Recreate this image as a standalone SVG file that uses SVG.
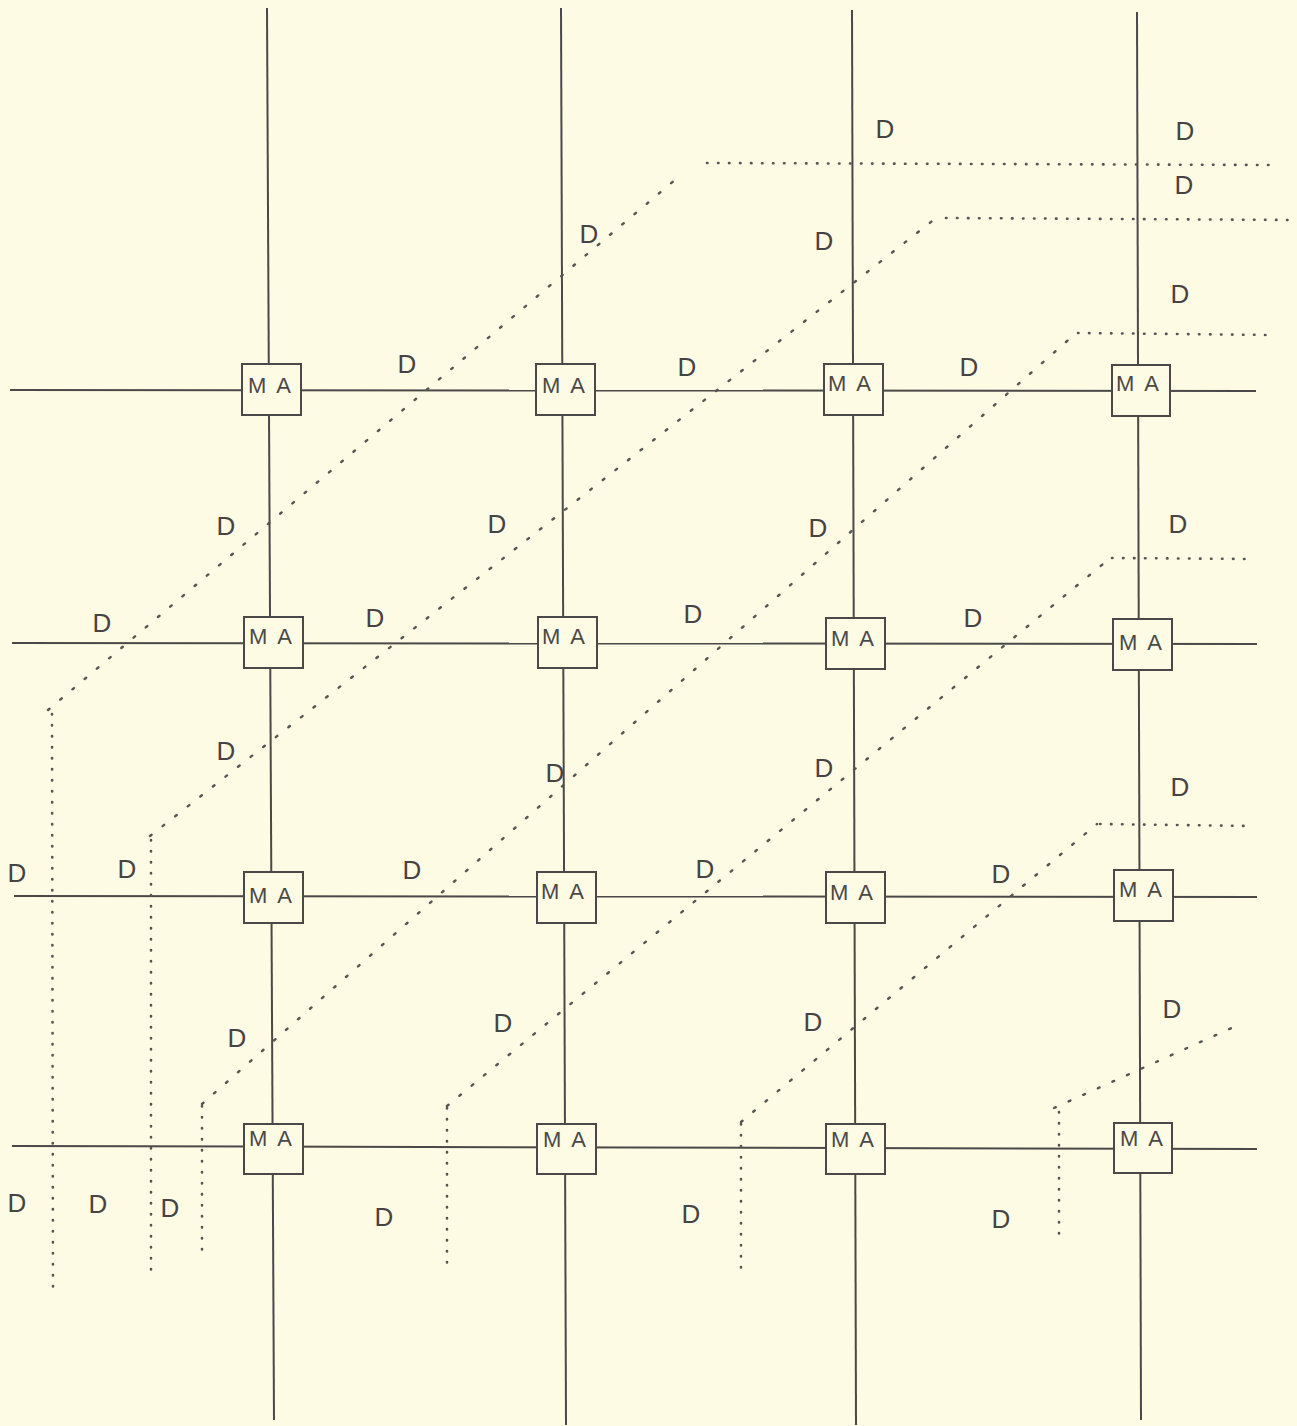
<svg xmlns="http://www.w3.org/2000/svg" width="1297" height="1426" viewBox="0 0 1297 1426">
<style>
.bg{fill:#fdfbe3}
.ln{stroke:#4a4848;stroke-width:2;fill:none}
.box{fill:#fdfbe3;stroke:#4a4848;stroke-width:2}
.ma{font-family:"Liberation Sans",Arial,sans-serif;font-size:22px;fill:#4a4848;letter-spacing:2.5px}
.d{font-family:"Liberation Sans",Arial,sans-serif;font-size:26px;fill:#454343;text-anchor:middle}
.dg{stroke:#555;stroke-width:2.4;fill:none;stroke-linecap:round;stroke-dasharray:2 14}
.dt{stroke:#555;stroke-width:2.6;fill:none;stroke-linecap:round;stroke-dasharray:0.5 10.5}
</style>
<rect class="bg" x="0" y="0" width="1297" height="1426"/>
<g id="connectors">
  <line class="ln" x1="267" y1="8" x2="274" y2="1420"/>
  <line class="ln" x1="561" y1="8" x2="566" y2="1425"/>
  <line class="ln" x1="852" y1="10" x2="856" y2="1425"/>
  <line class="ln" x1="1137" y1="12" x2="1141" y2="1420"/>
  <line class="ln" x1="10" y1="390" x2="1256" y2="391"/>
  <line class="ln" x1="12" y1="643" x2="1257" y2="644"/>
  <line class="ln" x1="14" y1="896" x2="1257" y2="897"/>
  <line class="ln" x1="12" y1="1146" x2="1257" y2="1149"/>
</g>
<g id="dotted">
  <line class="dg" x1="48" y1="710" x2="676" y2="179"/>
  <line class="dt" x1="52" y1="714" x2="53" y2="1287"/>
  <line class="dt" x1="707" y1="163" x2="1271" y2="165"/>
  <line class="dg" x1="150" y1="836" x2="936" y2="218"/>
  <line class="dt" x1="151" y1="840" x2="151" y2="1278"/>
  <line class="dt" x1="946" y1="218" x2="1296" y2="220"/>
  <line class="dg" x1="202" y1="1104" x2="1075" y2="334"/>
  <line class="dt" x1="202" y1="1106" x2="202" y2="1257"/>
  <line class="dt" x1="1078" y1="333" x2="1272" y2="335"/>
  <line class="dg" x1="447" y1="1106" x2="1103" y2="564"/>
  <line class="dt" x1="447" y1="1108" x2="447" y2="1269"/>
  <line class="dt" x1="1112" y1="558" x2="1250" y2="559"/>
  <line class="dg" x1="741" y1="1122" x2="1097" y2="824"/>
  <line class="dt" x1="741" y1="1124" x2="741" y2="1278"/>
  <line class="dt" x1="1100" y1="824" x2="1252" y2="826"/>
  <line class="dg" x1="1054" y1="1108" x2="1236" y2="1026"/>
  <line class="dt" x1="1059" y1="1112" x2="1059" y2="1240"/>
</g>
<g id="ma-1-1"><rect class="box" x="242" y="364" width="59" height="51"/><text class="ma" x="248" y="393">M A</text></g>
<g id="ma-1-2"><rect class="box" x="536" y="364" width="59" height="51"/><text class="ma" x="542" y="393">M A</text></g>
<g id="ma-1-3"><rect class="box" x="824" y="364" width="59" height="51"/><text class="ma" x="828" y="391">M A</text></g>
<g id="ma-1-4"><rect class="box" x="1112" y="365" width="58" height="51"/><text class="ma" x="1116" y="391">M A</text></g>
<g id="ma-2-1"><rect class="box" x="244" y="617" width="59" height="51"/><text class="ma" x="249" y="644">M A</text></g>
<g id="ma-2-2"><rect class="box" x="538" y="617" width="59" height="51"/><text class="ma" x="542" y="644">M A</text></g>
<g id="ma-2-3"><rect class="box" x="826" y="618" width="59" height="51"/><text class="ma" x="831" y="646">M A</text></g>
<g id="ma-2-4"><rect class="box" x="1113" y="619" width="59" height="51"/><text class="ma" x="1119" y="650">M A</text></g>
<g id="ma-3-1"><rect class="box" x="244" y="872" width="59" height="51"/><text class="ma" x="249" y="903">M A</text></g>
<g id="ma-3-2"><rect class="box" x="537" y="872" width="59" height="51"/><text class="ma" x="541" y="899">M A</text></g>
<g id="ma-3-3"><rect class="box" x="826" y="872" width="59" height="51"/><text class="ma" x="830" y="900">M A</text></g>
<g id="ma-3-4"><rect class="box" x="1114" y="870" width="59" height="51"/><text class="ma" x="1119" y="897">M A</text></g>
<g id="ma-4-1"><rect class="box" x="244" y="1124" width="59" height="50"/><text class="ma" x="249" y="1146">M A</text></g>
<g id="ma-4-2"><rect class="box" x="537" y="1124" width="59" height="50"/><text class="ma" x="543" y="1147">M A</text></g>
<g id="ma-4-3"><rect class="box" x="826" y="1124" width="59" height="50"/><text class="ma" x="831" y="1147">M A</text></g>
<g id="ma-4-4"><rect class="box" x="1114" y="1123" width="58" height="50"/><text class="ma" x="1120" y="1146">M A</text></g>
<g id="labels">
  <text class="d" x="885" y="138">D</text>
  <text class="d" x="1185" y="140">D</text>
  <text class="d" x="1184" y="194">D</text>
  <text class="d" x="589" y="243">D</text>
  <text class="d" x="824" y="250">D</text>
  <text class="d" x="1180" y="303">D</text>
  <text class="d" x="407" y="373">D</text>
  <text class="d" x="687" y="376">D</text>
  <text class="d" x="969" y="376">D</text>
  <text class="d" x="226" y="535">D</text>
  <text class="d" x="497" y="533">D</text>
  <text class="d" x="818" y="537">D</text>
  <text class="d" x="1178" y="533">D</text>
  <text class="d" x="102" y="632">D</text>
  <text class="d" x="375" y="627">D</text>
  <text class="d" x="693" y="623">D</text>
  <text class="d" x="973" y="627">D</text>
  <text class="d" x="226" y="760">D</text>
  <text class="d" x="555" y="782">D</text>
  <text class="d" x="824" y="777">D</text>
  <text class="d" x="1180" y="796">D</text>
  <text class="d" x="17" y="882">D</text>
  <text class="d" x="127" y="878">D</text>
  <text class="d" x="412" y="879">D</text>
  <text class="d" x="705" y="878">D</text>
  <text class="d" x="1001" y="883">D</text>
  <text class="d" x="237" y="1047">D</text>
  <text class="d" x="503" y="1032">D</text>
  <text class="d" x="813" y="1031">D</text>
  <text class="d" x="1172" y="1018">D</text>
  <text class="d" x="17" y="1212">D</text>
  <text class="d" x="98" y="1213">D</text>
  <text class="d" x="170" y="1217">D</text>
  <text class="d" x="384" y="1226">D</text>
  <text class="d" x="691" y="1223">D</text>
  <text class="d" x="1001" y="1228">D</text>
</g>
</svg>
